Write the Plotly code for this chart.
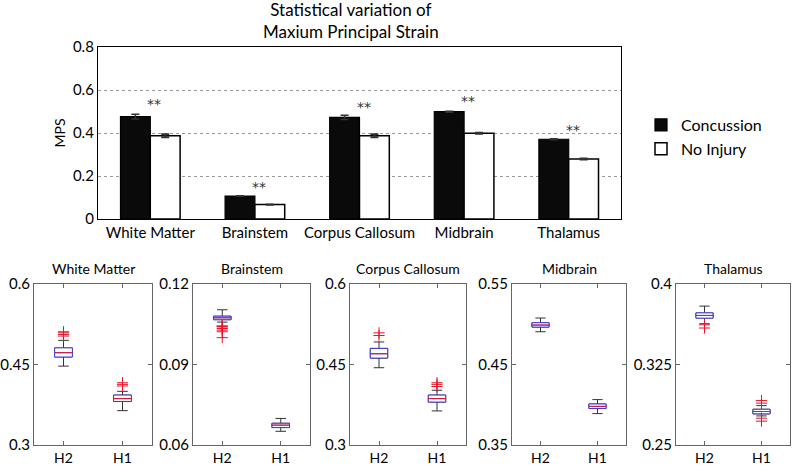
import plotly.graph_objects as go

# ---------------- data ----------------
regions = ["White Matter", "Brainstem", "Corpus Callosum", "Midbrain", "Thalamus"]
concussion = [0.476, 0.107, 0.473, 0.499, 0.371]
concussion_err = [0.011, 0.001, 0.010, 0.002, 0.002]
no_injury = [0.387, 0.067, 0.387, 0.399, 0.279]
no_injury_err = [0.007, 0.001, 0.007, 0.002, 0.002]
star_y = [0.553, 0.167, 0.540, 0.567, 0.433]

groups = ["H2", "H1"]
# box statistics per region: [H2, H1]
box_q1 = [[0.464, 0.381], [0.1067, 0.0665], [0.462, 0.380], [0.4965, 0.3953], [0.3682, 0.2790]]
box_median = [[0.472, 0.3865], [0.1074, 0.0674], [0.470, 0.3865], [0.4990, 0.3980], [0.3707, 0.2812]]
box_q3 = [[0.481, 0.393], [0.1080, 0.0681], [0.480, 0.393], [0.5019, 0.4010], [0.3731, 0.2833]]
box_low = [[0.447, 0.364], [0.1058, 0.0651], [0.444, 0.3635], [0.4907, 0.3890], [0.3630, 0.2771]]
box_high = [[0.495, 0.400], [0.1104, 0.0699], [0.492, 0.402], [0.5077, 0.4064], [0.3794, 0.2867]]
outliers = [
    [[0.503, 0.506, 0.509, 0.511], [0.410, 0.413, 0.416]],
    [[0.1044, 0.1042, 0.1040, 0.1034, 0.1028, 0.1022, 0.1000], []],
    [[0.504, 0.509], [0.409, 0.413, 0.416]],
    [[], []],
    [[0.362, 0.359], [0.2914, 0.2890, 0.2750, 0.2722]],
]
y_ranges = [[0.3, 0.6], [0.06, 0.12], [0.3, 0.6], [0.35, 0.55], [0.25, 0.4]]
y_ticks = [[0.3, 0.45, 0.6], [0.06, 0.09, 0.12], [0.3, 0.45, 0.6], [0.35, 0.45, 0.55], [0.25, 0.325, 0.4]]
y_ticklabels = [["0.3", "0.45", "0.6"], ["0.06", "0.09", "0.12"], ["0.3", "0.45", "0.6"],
                ["0.35", "0.45", "0.55"], ["0.25", "0.325", "0.4"]]
title_text = "Statistical variation of<br>Maxium Principal Strain"

# ---------------- layout helpers ----------------
W, H = 793, 466
FONT = "Lato"
def px_x(a, b):
    return [a / W, b / W]
def px_y(top, bottom):
    return [1 - bottom / H, 1 - top / H]
def fx(a):
    return a / W
def fy(a):
    return 1 - a / H

sub_x = [px_x(34, 152), px_x(193, 310), px_x(350, 466), px_x(512, 626), px_x(676, 790)]
sub_y = px_y(284, 445)

fig = go.Figure()

# ---------------- top bar chart ----------------
fig.add_trace(go.Bar(
    x=regions, y=concussion, name="Concussion",
    marker=dict(color="#0a0a0a", line=dict(color="black", width=1.2)),
    error_y=dict(type="data", array=concussion_err, color="#333333", thickness=1.5, width=4),
    xaxis="x", yaxis="y",
))
fig.add_trace(go.Bar(
    x=regions, y=no_injury, name="No Injury",
    marker=dict(color="white", line=dict(color="black", width=1.5)),
    error_y=dict(type="data", array=no_injury_err, color="#333333", thickness=2, width=4),
    xaxis="x", yaxis="y",
))

annotations = [dict(x=fx(351), y=1, xref="paper", yref="paper", text=title_text, showarrow=False,
                    xanchor="center", yanchor="top", yshift=2, borderpad=0,
                    font=dict(family=FONT, size=17, color="black"))]
for r, sy in zip(regions, star_y):
    annotations.append(dict(x=r, y=sy, xref="x", yref="y", text="**", showarrow=False,
                            xshift=4, yshift=-4, font=dict(family="DejaVu Sans", size=14, color="#333333")))

# ---------------- box plots ----------------
BOX_W = 0.3
for i in range(5):
    ax = str(i + 2)
    for j, g in enumerate(groups):
        pos = j + 1
        # whiskers + caps (black)
        fig.add_trace(go.Box(
            x=[pos], q1=[box_q1[i][j]], median=[box_median[i][j]], q3=[box_q3[i][j]],
            lowerfence=[box_low[i][j]], upperfence=[box_high[i][j]],
            width=BOX_W, whiskerwidth=0.6, fillcolor="white",
            line=dict(color="#333333", width=1), boxpoints=False, showlegend=False,
            hoverinfo="skip", xaxis="x" + ax, yaxis="y" + ax,
        ))
        # box (blue)
        fig.add_trace(go.Box(
            x=[pos], q1=[box_q1[i][j]], median=[box_median[i][j]], q3=[box_q3[i][j]],
            lowerfence=[box_q1[i][j]], upperfence=[box_q3[i][j]],
            width=BOX_W, whiskerwidth=0, fillcolor="white",
            line=dict(color="#3a3adf", width=1), boxpoints=False, showlegend=False,
            hoverinfo="skip", xaxis="x" + ax, yaxis="y" + ax,
        ))
        # median (red)
        fig.add_trace(go.Scatter(
            x=[pos - BOX_W / 2, pos + BOX_W / 2], y=[box_median[i][j]] * 2,
            mode="lines", line=dict(color="#e8142a", width=1), showlegend=False,
            hoverinfo="skip", xaxis="x" + ax, yaxis="y" + ax,
        ))
        if outliers[i][j]:
            fig.add_trace(go.Scatter(
                x=[pos] * len(outliers[i][j]), y=outliers[i][j], mode="markers",
                marker=dict(symbol="cross-thin", size=8, line=dict(color="#e8142a", width=1)),
                showlegend=False, hoverinfo="skip", xaxis="x" + ax, yaxis="y" + ax,
            ))
    annotations.append(dict(x=sum(sub_x[i]) / 2, y=sub_y[1], xref="paper", yref="paper",
                            text=regions[i], showarrow=False, xanchor="center", yanchor="bottom",
                            yshift=5, font=dict(family=FONT, size=14, color="black")))

layout = dict(
    width=W, height=H, margin=dict(l=0, r=0, t=0, b=0, autoexpand=False),
    paper_bgcolor="white", plot_bgcolor="white",
    font=dict(family=FONT, size=14, color="black"),
    barmode="group", bargap=0.43, bargroupgap=0, boxmode="overlay",
    legend=dict(x=fx(641), y=fy(108), xanchor="left", yanchor="top",
                font=dict(family=FONT, size=16), bgcolor="rgba(0,0,0,0)", tracegroupgap=2),
    xaxis=dict(domain=px_x(98, 621), type="category", range=[-0.5, 4.5], showline=True, mirror=True,
               linecolor="black", linewidth=1.3, ticks="", showgrid=False, tickfont=dict(size=15),
               anchor="y", automargin=False),
    yaxis=dict(domain=px_y(47, 219), range=[0, 0.8], tickvals=[0, 0.2, 0.4, 0.6, 0.8],
               ticktext=["0", "0.2", "0.4", "0.6", "0.8"], showline=True, mirror=True,
               linecolor="black", linewidth=1.3, showgrid=True, gridcolor="#9a9a9a", griddash="dot",
               gridwidth=1, zeroline=False, ticks="", tickfont=dict(size=15),
               title=dict(text="MPS", font=dict(size=14), standoff=3), anchor="x", automargin=False),
    annotations=annotations,
)
for i in range(5):
    ax = str(i + 2)
    layout["xaxis" + ax] = dict(domain=sub_x[i], range=[0.5, 2.5], tickvals=[1, 2], ticktext=groups,
                                showline=True, mirror="ticks", linecolor="#666666", linewidth=1,
                                ticks="inside", ticklen=4, tickcolor="#666666", showgrid=False,
                                zeroline=False, tickfont=dict(size=14), anchor="y" + ax,
                                automargin=False)
    layout["yaxis" + ax] = dict(domain=sub_y, range=y_ranges[i], tickvals=y_ticks[i],
                                ticktext=y_ticklabels[i], showline=True, mirror="ticks",
                                linecolor="#666666", linewidth=1, ticks="inside", ticklen=4,
                                tickcolor="#666666", showgrid=False, zeroline=False,
                                tickfont=dict(size=15), anchor="x" + ax, automargin=False)
fig.update_layout(**layout)
# remove the browser's default 8px body margin so the figure fills the window exactly
fig.write_html("out.html", config={"displayModeBar": False},
               post_script="document.body.style.margin='0';")
